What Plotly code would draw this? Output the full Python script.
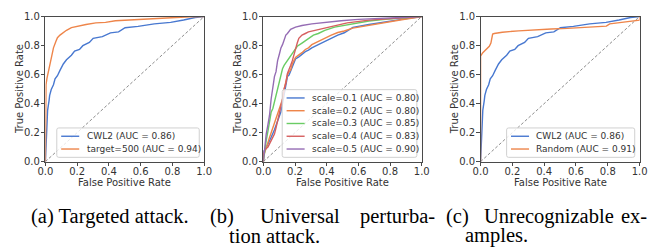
import plotly.graph_objects as go

W, H = 660, 249

# ---------------- data ----------------
# panel (a) / (c): CWL2
cwl2_fpr = [0, 0.006, 0.014, 0.023, 0.027, 0.037, 0.051, 0.061, 0.076, 0.092, 0.113, 0.133,
            0.164, 0.184, 0.215, 0.236, 0.277, 0.301, 0.359, 0.410, 0.461, 0.502, 0.584,
            0.686, 0.789, 0.871, 0.943, 1.0]
cwl2_tpr = [0, 0.155, 0.353, 0.419, 0.457, 0.497, 0.530, 0.570, 0.592, 0.629, 0.673, 0.702,
            0.733, 0.762, 0.773, 0.799, 0.821, 0.850, 0.861, 0.887, 0.894, 0.923, 0.932,
            0.949, 0.960, 0.976, 0.993, 1.0]

# panel (a): target=500
t500_fpr = [0, 0.002, 0.004, 0.010, 0.020, 0.031, 0.041, 0.051, 0.066, 0.076, 0.092, 0.109,
            0.133, 0.164, 0.195, 0.256, 0.318, 0.379, 0.441, 0.584, 0.686, 0.789, 0.912, 1.0]
t500_tpr = [0, 0.419, 0.530, 0.574, 0.629, 0.684, 0.728, 0.784, 0.828, 0.854, 0.872, 0.887,
            0.905, 0.923, 0.932, 0.945, 0.956, 0.960, 0.971, 0.980, 0.987, 0.993, 0.998, 1.0]

# panel (b): universal perturbation scales
s1_fpr = [0, 0, 0.01, 0.03, 0.05, 0.07, 0.09, 0.11, 0.121, 0.131, 0.142, 0.152, 0.162, 0.183,
          0.193, 0.203, 0.224, 0.244, 0.265, 0.285, 0.306, 0.347, 0.388, 0.429, 0.47, 0.511,
          0.565, 0.667, 0.77, 0.873, 0.975, 1.0]
s1_tpr = [0, 0.07, 0.08, 0.12, 0.17, 0.22, 0.28, 0.34, 0.40, 0.46, 0.54, 0.586, 0.597, 0.652,
          0.685, 0.707, 0.722, 0.74, 0.758, 0.769, 0.784, 0.806, 0.828, 0.85, 0.872, 0.888,
          0.925, 0.945, 0.96, 0.98, 0.996, 1.0]

s2_fpr = [0, 0, 0.008, 0.018, 0.039, 0.060, 0.080, 0.101, 0.121, 0.131, 0.142, 0.152, 0.162,
          0.172, 0.183, 0.193, 0.203, 0.224, 0.244, 0.265, 0.285, 0.306, 0.326, 0.347, 0.368,
          0.388, 0.429, 0.47, 0.511, 0.565, 0.667, 0.77, 0.873, 0.975, 1.0]
s2_tpr = [0, 0.05, 0.06, 0.10, 0.167, 0.233, 0.30, 0.366, 0.43, 0.50, 0.564, 0.597, 0.62,
          0.63, 0.674, 0.696, 0.718, 0.736, 0.751, 0.773, 0.784, 0.806, 0.817, 0.828, 0.839,
          0.855, 0.872, 0.89, 0.90, 0.92, 0.94, 0.955, 0.978, 0.995, 1.0]

s3_fpr = [0, 0.008, 0.018, 0.029, 0.039, 0.049, 0.060, 0.070, 0.080, 0.090, 0.101, 0.111,
          0.121, 0.131, 0.152, 0.172, 0.183, 0.193, 0.214, 0.244, 0.285, 0.316, 0.347, 0.388,
          0.45, 0.511, 0.6, 0.667, 0.77, 0.873, 1.0]
s3_tpr = [0, 0.08, 0.145, 0.21, 0.29, 0.34, 0.366, 0.41, 0.454, 0.51, 0.564, 0.608, 0.64,
          0.663, 0.696, 0.729, 0.75, 0.762, 0.795, 0.817, 0.85, 0.872, 0.883, 0.905, 0.927,
          0.938, 0.958, 0.969, 0.98, 0.991, 1.0]

s4_fpr = [0, 0, 0.008, 0.029, 0.049, 0.070, 0.080, 0.090, 0.101, 0.111, 0.121, 0.131, 0.142,
          0.152, 0.162, 0.172, 0.183, 0.193, 0.203, 0.214, 0.224, 0.244, 0.265, 0.285, 0.326,
          0.368, 0.409, 0.47, 0.53, 0.667, 0.873, 1.0]
s4_tpr = [0, 0.05, 0.08, 0.10, 0.145, 0.19, 0.233, 0.278, 0.32, 0.366, 0.43, 0.50, 0.54,
          0.608, 0.63, 0.663, 0.696, 0.74, 0.784, 0.817, 0.85, 0.872, 0.883, 0.894, 0.905,
          0.916, 0.927, 0.943, 0.956, 0.975, 0.991, 1.0]

s5_fpr = [0, 0.008, 0.018, 0.029, 0.039, 0.049, 0.060, 0.070, 0.080, 0.090, 0.101, 0.111,
          0.121, 0.131, 0.142, 0.152, 0.162, 0.172, 0.203, 0.244, 0.306, 0.388, 0.491, 0.60,
          0.77, 1.0]
s5_tpr = [0, 0.10, 0.19, 0.255, 0.32, 0.43, 0.52, 0.586, 0.62, 0.696, 0.74, 0.784, 0.806,
          0.839, 0.872, 0.883, 0.894, 0.912, 0.927, 0.938, 0.949, 0.96, 0.971, 0.98, 0.99, 1.0]

# panel (c): Random
rand_fpr = [0, 0, 0.014, 0.035, 0.055, 0.065, 0.076, 0.086, 0.137, 0.239, 0.342, 0.444,
            0.546, 0.648, 0.751, 0.791, 0.812, 0.873, 0.955, 1.0, 1.0]
rand_tpr = [0, 0.728, 0.751, 0.773, 0.795, 0.817, 0.879, 0.883, 0.892, 0.901, 0.909, 0.914,
            0.918, 0.923, 0.929, 0.934, 0.949, 0.956, 0.967, 0.975, 1.0]

tick_vals = [0.0, 0.2, 0.4, 0.6, 0.8, 1.0]
tick_text = ["0.0", "0.2", "0.4", "0.6", "0.8", "1.0"]

panels = [
    [("CWL2 (AUC = 0.86)", cwl2_fpr, cwl2_tpr, "#4878d0"),
     ("target=500 (AUC = 0.94)", t500_fpr, t500_tpr, "#ee854a")],
    [("scale=0.1 (AUC = 0.80)", s1_fpr, s1_tpr, "#4878d0"),
     ("scale=0.2 (AUC = 0.80)", s2_fpr, s2_tpr, "#ee854a"),
     ("scale=0.3 (AUC = 0.85)", s3_fpr, s3_tpr, "#6acc64"),
     ("scale=0.4 (AUC = 0.83)", s4_fpr, s4_tpr, "#d65f5f"),
     ("scale=0.5 (AUC = 0.90)", s5_fpr, s5_tpr, "#956cb4")],
    [("CWL2 (AUC = 0.86)", cwl2_fpr, cwl2_tpr, "#4878d0"),
     ("Random (AUC = 0.91)", rand_fpr, rand_tpr, "#ee854a")],
]

# ---------------- layout helpers ----------------
def px(x):
    return x / W

def py(y):
    return 1 - y / H

axes_px = [(38.3, 201.0), (261.7, 424.0), (484.3, 647.3)]
legend_left = [50.0, 281.0, 511.0]
y_top, y_bot = 12.0, 163.2
TXT = "#333333"
SP = "#4a4a4a"
FONT = "DejaVu Sans"

fig = go.Figure()
shapes = []
annotations = []

for i, series in enumerate(panels):
    xs = "" if i == 0 else str(i + 1)
    xref, yref = "x" + xs, "y" + xs
    # diagonal chance line
    fig.add_trace(go.Scatter(x=[0, 1], y=[0, 1], mode="lines", xaxis=xref, yaxis=yref,
                             line=dict(color="#8c8c8c", width=1, dash="3px,2px"),
                             showlegend=False, hoverinfo="skip"))
    for name, fx, ty, col in series:
        fig.add_trace(go.Scatter(x=fx, y=ty, mode="lines", name=name, xaxis=xref, yaxis=yref,
                                 line=dict(color=col, width=1.4), showlegend=False))
    l, r = axes_px[i]
    axis_common = dict(range=[0, 1], tickvals=tick_vals, ticktext=tick_text, showgrid=False,
                       zeroline=False, showline=True, mirror=True, linecolor=SP, linewidth=1,
                       ticks="outside", ticklen=3.5, tickwidth=1, tickcolor=SP,
                       tickfont=dict(family=FONT, size=10, color=TXT), fixedrange=True)
    fig.update_layout(**{
        "xaxis" + xs: dict(domain=[px(l), px(r)], anchor=yref, ticklabelstandoff=-3,
                           **axis_common),
        "yaxis" + xs: dict(domain=[py(y_bot), py(y_top)], anchor=xref, ticklabelstandoff=-1,
                           **axis_common),
    })
    # axis titles
    annotations.append(dict(x=px((l + r) / 2), y=py(184.5), xref="paper", yref="paper",
                            text="False Positive Rate", showarrow=False, xanchor="center",
                            yanchor="middle", font=dict(family=FONT, size=10, color=TXT)))
    annotations.append(dict(x=px(l - 27), y=py((y_top + y_bot) / 2), xref="paper", yref="paper",
                            text="True Positive Rate", showarrow=False, textangle=-90,
                            xanchor="center", yanchor="middle",
                            font=dict(family=FONT, size=10, color=TXT)))
    # legend (drawn by hand to match matplotlib's compact layout)
    n = len(series)
    row = 13.3
    bl = legend_left[i]
    br = r - 5.0
    bb = y_bot - 4.5
    bt = bb - (row * n + 4)
    rx, ry = 2.0 / W, 2.0 / H
    x0, x1, y0, y1 = px(bl), px(br), py(bb), py(bt)
    path = (f"M{x0+rx},{y1} L{x1-rx},{y1} Q{x1},{y1} {x1},{y1-ry} L{x1},{y0+ry} "
            f"Q{x1},{y0} {x1-rx},{y0} L{x0+rx},{y0} Q{x0},{y0} {x0},{y0+ry} "
            f"L{x0},{y1-ry} Q{x0},{y1} {x0+rx},{y1} Z")
    shapes.append(dict(type="path", path=path, xref="paper", yref="paper", layer="above",
                       fillcolor="rgba(255,255,255,0.8)", line=dict(color="#d0d0d0", width=1)))
    for k, (name, fx, ty, col) in enumerate(series):
        yc = bt + 2 + row * (k + 0.5)
        shapes.append(dict(type="line", xref="paper", yref="paper", layer="above",
                           x0=px(bl + 4.5), x1=px(bl + 23), y0=py(yc), y1=py(yc),
                           line=dict(color=col, width=1.4)))
        annotations.append(dict(x=px(bl + 28.5), y=py(yc), xref="paper", yref="paper",
                                text=name, showarrow=False, xanchor="left", yanchor="middle",
                                font=dict(family=FONT, size=9, color=TXT)))

# captions (justified like the LaTeX subcaptions)
CAP = dict(family="Liberation Serif", size=20.5, color="#000000")
cap_items = [
    ("(a) Targeted attack.", 104.5, 220, "center"),
    ("(b)", 205, 220, "left"),
    ("Universal", 256.5, 220, "left"),
    ("perturba-", 440, 220, "right"),
    ("tion attack.", 224, 240.5, "left"),
    ("(c)", 447, 220, "left"),
    ("Unrecognizable", 485.4, 220, "left"),
    ("ex-", 657, 220, "right"),
    ("amples.", 466, 240.5, "left"),
]
for text, x, y, anc in cap_items:
    annotations.append(dict(x=px(x), y=py(y), xref="paper", yref="paper", text=text,
                            showarrow=False, xanchor=anc, yanchor="middle", font=CAP))

fig.update_layout(width=W, height=H, margin=dict(l=0, r=0, t=0, b=0),
                  paper_bgcolor="white", plot_bgcolor="white", showlegend=False,
                  shapes=shapes, annotations=annotations)

fig.write_html("out.html", config={"displayModeBar": False},
               post_script="document.body.style.margin='0';document.body.style.padding='0';")
